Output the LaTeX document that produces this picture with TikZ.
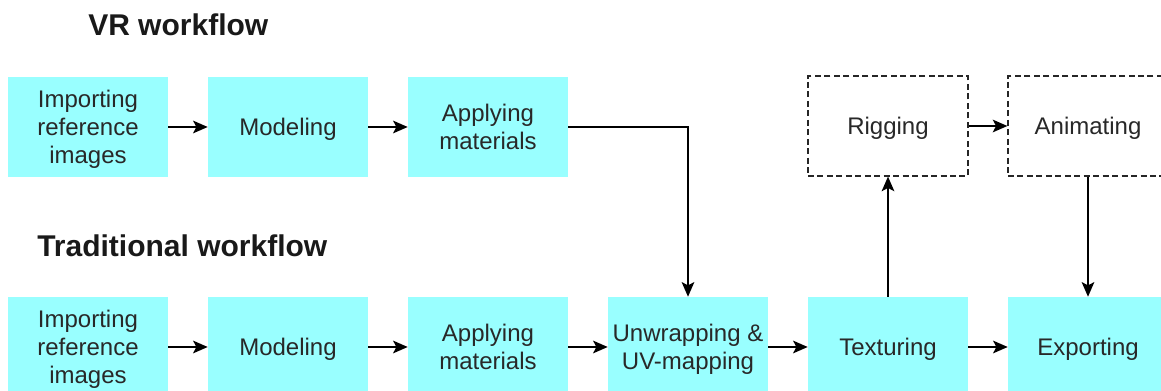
\documentclass[tikz,border=0pt]{standalone}
\usepackage{fontspec}
\setmainfont{Liberation Sans}
\usetikzlibrary{arrows.meta}
\definecolor{boxfill}{RGB}{153,255,255}
\definecolor{txt}{RGB}{40,40,40}
\begin{document}
\begin{tikzpicture}[x=0.75pt,y=-0.75pt,
  stage/.style={rectangle, fill=boxfill, minimum width=120pt, minimum height=75pt, inner sep=0pt, align=center, text=txt, text depth=0pt, font=\fontsize{18}{20.8}\selectfont},
  optstage/.style={stage, fill=white, draw=black!85, dash pattern=on 4.5pt off 2.6pt, line width=0.9pt},
  heading/.style={anchor=base west, font=\fontsize{22.5}{26}\selectfont\bfseries, inner sep=0pt, text=black!90},
  flow/.style={draw=black, line width=1.2pt, -{Stealth[length=11pt,width=9.5pt,inset=2.5pt]}}]
\useasboundingbox (0,0) rectangle (1161,391);
\clip (0,0) rectangle (1161,391);
% headings
\node[heading] (vrt) at (88,36) {VR workflow};
\node[heading] (trt) at (37,257) {Traditional workflow};
% VR row
\node[stage] (v1) at (88,127) {Importing\\reference\\images};
\node[stage] (v2) at (288,127) {Modeling};
\node[stage] (v3) at (488,127) {Applying\\materials};
\node[optstage] (rig) at (888,126) {Rigging};
\node[optstage] (ani) at (1088,126) {Animating};
% Traditional row
\node[stage] (t1) at (88,347) {Importing\\reference\\images};
\node[stage] (t2) at (288,347) {Modeling};
\node[stage] (t3) at (488,347) {Applying\\materials};
\node[stage] (t4) at (688,347) {Unwrapping \&\\UV-mapping};
\node[stage] (t5) at (888,347) {Texturing};
\node[stage] (t6) at (1088,347) {Exporting};
% connectors
\draw[flow] (v1) -- (v2);
\draw[flow] (v2) -- (v3);
\draw[flow] (v3.east) -| (t4.north);
\draw[flow] (t1) -- (t2);
\draw[flow] (t2) -- (t3);
\draw[flow] (t3) -- (t4);
\draw[flow] (t4) -- (t5);
\draw[flow] (t5) -- (t6);
\draw[flow] (t5.north) -- (rig.south);
\draw[flow] (rig) -- (ani);
\draw[flow] (ani.south) -- (t6.north);
\end{tikzpicture}
\end{document}
